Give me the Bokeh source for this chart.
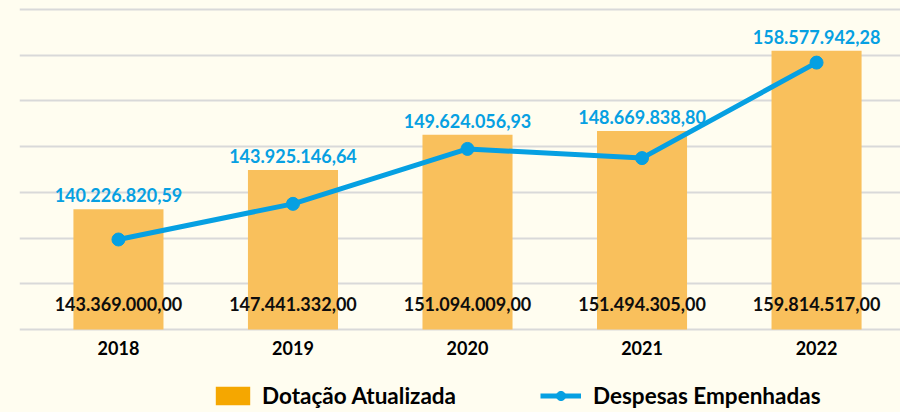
from bokeh.plotting import figure
from bokeh.models import (Range1d, FixedTicker, ColumnDataSource, Legend, LegendItem, CustomJS)
from bokeh.core.properties import value
from bokeh.document import Document
from bokeh.embed import file_html
from bokeh.resources import INLINE

# ---- data ----
years = [2018, 2019, 2020, 2021, 2022]
year_labels = ["2018", "2019", "2020", "2021", "2022"]
dotacao_atualizada = [143369000.00, 147441332.00, 151094009.00, 151494305.00, 159814517.00]
despesas_empenhadas = [140226820.59, 143925146.64, 149624056.93, 148669838.80, 158577942.28]
series_names = ["Dotação Atualizada", "Despesas Empenhadas"]


def br(v):
    s = f"{v:,.2f}"
    return s.replace(",", "X").replace(".", ",").replace("X", ".")


# ---- styles ----
BG = "#FFFDF0"
BAR = "#F9C05C"
BAR_LEG = "#F5A700"
BLUE = "#06A0E2"
GRID = "#D9D9D9"
FONT = "Lato"

AXIS_BASE = 130.89e6
GRID_STEP = 4.746e6
Y_START, Y_END = 122.28e6, 165.02e6

src = ColumnDataSource(dict(
    year=years,
    year_lab=year_labels,
    dot=dotacao_atualizada,
    desp=despesas_empenhadas,
    dot_lab=[br(v) for v in dotacao_atualizada],
    desp_lab=[br(v) for v in despesas_empenhadas],
))

p = figure(width=900, height=412,
           x_range=Range1d(2017.433, 2022.481), y_range=Range1d(Y_START, Y_END),
           output_backend="svg", toolbar_location=None,
           min_border_left=19, min_border_right=0, min_border_top=0, min_border_bottom=0,
           background_fill_color=BG, border_fill_color=BG, outline_line_color=None)

p.yaxis.visible = False
p.xaxis.visible = False
p.xgrid.visible = False
p.ygrid.ticker = FixedTicker(ticks=[AXIS_BASE + k * GRID_STEP for k in range(8)])
p.ygrid.grid_line_color = GRID
p.ygrid.grid_line_width = 2

bars = p.vbar(x="year", top="dot", bottom=AXIS_BASE, width=0.516, source=src,
              fill_color=BAR, line_color=None)
bars_leg = p.vbar(x="year", top="dot", bottom=AXIS_BASE, width=0.0, source=src,
                  fill_color=BAR_LEG, line_color=None)

ln = p.line(x="year", y="desp", source=src, line_color=BLUE, line_width=5)
mk = p.scatter(x="year", y="desp", source=src, size=13, fill_color=BLUE, line_color=BLUE)

p.text(x="year", y="dot", text="desp_lab", source=src, y_offset=-14,
       text_align="center", text_baseline="middle", text_font=value(FONT),
       text_font_style="bold", text_font_size="18px", text_color=BLUE)
p.text(x="year", y=AXIS_BASE, text="dot_lab", source=src, y_offset=-26,
       text_align="center", text_baseline="middle", text_font=value(FONT),
       text_font_style="bold", text_font_size="18px", text_color="#0D0D0D")
p.text(x="year", y=AXIS_BASE, text="year_lab", source=src, y_offset=18,
       text_align="center", text_baseline="middle", text_font=value(FONT),
       text_font_style="bold", text_font_size="18px", text_color="#000000")


def mk_legend(item, loc, gw, standoff):
    return Legend(items=[item], location=loc, orientation="horizontal",
                  padding=0, margin=0, spacing=0, glyph_width=gw, glyph_height=23,
                  label_standoff=standoff, border_line_color=None, background_fill_alpha=0,
                  label_text_font=FONT, label_text_font_style="bold",
                  label_text_font_size="22.5px", label_text_color="#000000")


p.add_layout(mk_legend(LegendItem(label=series_names[0], renderers=[bars_leg]), (192, 3), 43, 8), "center")
p.add_layout(mk_legend(LegendItem(label=series_names[1], renderers=[ln, mk]), (521, 3), 41, 12), "center")

doc = Document()
doc.add_root(p)
doc.js_on_event("document_ready", CustomJS(code=f"document.body.style.backgroundColor='{BG}';"))

open("out.html", "w").write(file_html(p, INLINE))
